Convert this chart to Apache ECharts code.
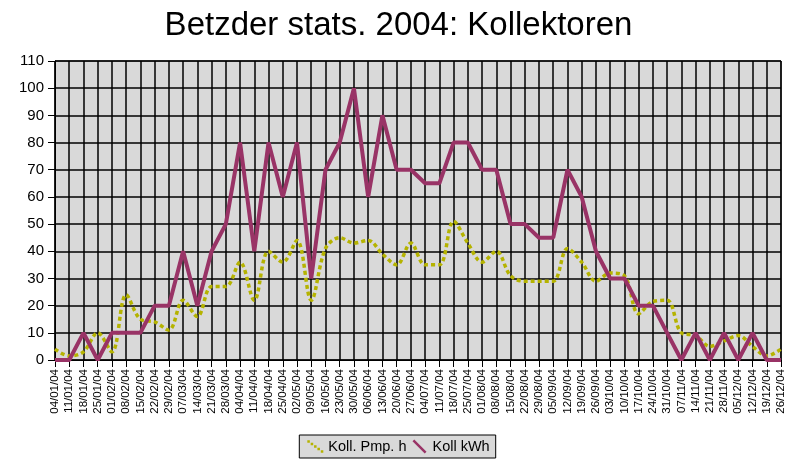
<!DOCTYPE html>
<html><head><meta charset="utf-8">
<script src="https://cdn.jsdelivr.net/npm/echarts@6/dist/echarts.min.js"></script>
<style>html,body{margin:0;padding:0;background:#fff}#c{width:797px;height:467px}</style>
</head><body><div id="c"></div>
<script>
const categories = ["04/01/04","11/01/04","18/01/04","25/01/04","01/02/04","08/02/04","15/02/04","22/02/04","29/02/04","07/03/04","14/03/04","21/03/04","28/03/04","04/04/04","11/04/04","18/04/04","25/04/04","02/05/04","09/05/04","16/05/04","23/05/04","30/05/04","06/06/04","13/06/04","20/06/04","27/06/04","04/07/04","11/07/04","18/07/04","25/07/04","01/08/04","08/08/04","15/08/04","22/08/04","29/08/04","05/09/04","12/09/04","19/09/04","26/09/04","03/10/04","10/10/04","17/10/04","24/10/04","31/10/04","07/11/04","14/11/04","21/11/04","28/11/04","05/12/04","12/12/04","19/12/04","26/12/04"];
const pumpHours = [4,1.5,3,10,3,24,15,14,11,22,16,27,27,36,22,40,36,44,22,41,45,43,44,39,35,43,35,35,51,43,36,40,31,29,29,29,41,36,29,32,31,17,21.5,22,10,9,5,7,9,5,1.5,4];
const kwh = [0,0,10,0,10,10,10,20,20,40,20,40,50,80,40,80,60,80,30,70,80,100,60,90,70,70,65,65,80,80,70,70,50,50,45,45,70,60,40,30,30,20,20,10,0,10,0,10,0,10,0,0];
const yTicks = {min:0, max:110, interval:10};

const chart = echarts.init(document.getElementById('c'));
const FONT = 'Liberation Sans, Arial, sans-serif';
chart.setOption({
  animation:false,
  backgroundColor:'#fff',
  title:{text:'Betzder stats. 2004: Kollektoren', left:'center', top:4,
    textStyle:{fontFamily:FONT, fontSize:33, fontWeight:'normal', color:'#000'}},
  grid:{left:55, right:16, top:61, bottom:107, show:true, backgroundColor:'#d9d9d9', borderColor:'#000', borderWidth:1},
  legend:{bottom:9, left:'center', backgroundColor:'#d9d9d9', borderColor:'#000', borderWidth:1,
    padding:[4,6,4,8], itemGap:6, itemWidth:16, itemHeight:14,
    textStyle:{fontFamily:FONT, fontSize:14.5, color:'#000'},
    data:[
      {name:'Koll. Pmp. h', icon:'path://M0,0h3v3h-3zM4,3h3v3h-3zM8,6h3v3h-3zM12,9h3v3h-3zM16,12h3v3h-3z', itemStyle:{color:'#b5b300'}},
      {name:'Koll kWh', icon:'path://M0,2L2,0L16,14L14,16Z', itemStyle:{color:'#993366'}}
    ]},
  xAxis:{type:'category', data:categories, boundaryGap:false,
    axisLine:{lineStyle:{color:'#000', width:1}},
    axisTick:{show:true, interval:0, length:7, lineStyle:{color:'#000'}},
    axisLabel:{interval:0, rotate:90, fontFamily:FONT, fontSize:11.5, color:'#000', margin:9},
    splitLine:{show:true, interval:0, lineStyle:{color:'#000', width:1.5}}},
  yAxis:{type:'value', min:yTicks.min, max:yTicks.max, interval:yTicks.interval,
    axisLine:{show:true, lineStyle:{color:'#000'}},
    axisTick:{show:true, length:7, lineStyle:{color:'#000'}},
    axisLabel:{fontFamily:FONT, fontSize:15, color:'#000', margin:11},
    splitLine:{show:true, lineStyle:{color:'#000', width:1.5}}},
  series:[
    {name:'Koll. Pmp. h', type:'line', data:pumpHours, smooth:0.35, symbol:'none',
      lineStyle:{color:'#b5b300', width:3.5, type:[4,3]}, itemStyle:{color:'#b5b300'}, z:3},
    {name:'Koll kWh', type:'line', data:kwh, symbol:'none',
      lineStyle:{color:'#993366', width:4}, itemStyle:{color:'#993366'}, z:4}
  ]
});
</script></body></html>
